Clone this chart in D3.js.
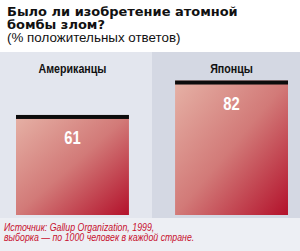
<!DOCTYPE html>
<html>
<head>
<meta charset="utf-8">
<script src="https://cdn.jsdelivr.net/npm/d3@7"></script>
<style>
  body { margin: 0; background: #fff; }
  svg { display: block; }
</style>
</head>
<body>
<div id="chart"></div>
<script>
// data
var categories = ["Американцы", "Японцы"];
var values = [61, 82];
var titleLines = ["Было ли изобретение атомной", "бомбы злом?"];
var subtitle = "(% положительных ответов)";
var sourceLines = ["Источник: Gallup Organization, 1999,", "выборка — по 1000 человек в каждой стране."];

(function () {
  var width = 300, height = 251;

  var svg = d3.select("#chart")
    .append("svg")
      .attr("width", width)
      .attr("height", height);

  // squeeze text horizontally, the original uses a condensed face
  function narrow(sx) {
    return function (sel) {
      sel.attr("transform", function () {
        var t = d3.select(this);
        return "translate(" + t.attr("x") + "," + t.attr("y") + ") scale(" + sx + ",1)";
      }).attr("x", 0).attr("y", 0);
    };
  }

  var defs = svg.append("defs");
  var grad = defs.append("linearGradient")
      .attr("id", "barGrad")
      .attr("x1", "0").attr("y1", "0")
      .attr("x2", "1").attr("y2", "1");
  grad.append("stop").attr("offset", "0%").attr("stop-color", "#e6b2a6");
  grad.append("stop").attr("offset", "50%").attr("stop-color", "#d27a78");
  grad.append("stop").attr("offset", "100%").attr("stop-color", "#b3112b");

  // scales
  var panel = d3.scaleBand().domain(categories).range([0, 304]);
  var x = d3.scaleBand().domain(categories).range([16, 288]).paddingInner(0.29);
  var y = d3.scaleLinear().domain([0, 100]).range([215, 51]);

  // backgrounds
  svg.append("rect")
    .attr("x", 0).attr("y", 52).attr("width", width).attr("height", height - 52)
    .attr("fill", "#edeff4");
  svg.selectAll(".panel")
    .data(categories)
    .enter().append("rect")
      .attr("class", "panel")
      .attr("x", function (d) { return panel(d); })
      .attr("y", 52)
      .attr("width", panel.bandwidth())
      .attr("height", 166)
      .attr("fill", function (d, i) { return i === 0 ? "#e3e6ee" : "#d4d8e3"; });

  // bars
  svg.selectAll(".bar")
    .data(values)
    .enter().append("rect")
      .attr("class", "bar")
      .attr("x", function (d, i) { return x(categories[i]); })
      .attr("y", function (d) { return y(d); })
      .attr("width", x.bandwidth())
      .attr("height", function (d) { return y(0) - y(d); })
      .attr("fill", "url(#barGrad)");

  svg.selectAll(".cap")
    .data(values)
    .enter().append("rect")
      .attr("class", "cap")
      .attr("x", function (d, i) { return x(categories[i]); })
      .attr("y", function (d) { return y(d); })
      .attr("width", x.bandwidth())
      .attr("height", 4)
      .attr("fill", "#0c0c0c");

  // value labels
  svg.selectAll(".val")
    .data(values)
    .enter().append("text")
      .attr("class", "val")
      .attr("x", function (d, i) { return x(categories[i]) + x.bandwidth() / 2; })
      .attr("y", function (d) { return y(d) + 29; })
      .attr("text-anchor", "middle")
      .style("font-family", "'Liberation Sans', Arial, sans-serif")
      .style("font-weight", "bold")
      .style("font-size", "18.5px")
      .attr("fill", "#fff")
      .text(function (d) { return d; })
      .call(narrow(0.8));

  // category labels
  svg.selectAll(".cat")
    .data(categories)
    .enter().append("text")
      .attr("class", "cat")
      .attr("x", function (d) { return x(d) + x.bandwidth() / 2; })
      .attr("y", 73)
      .attr("text-anchor", "middle")
      .style("font-family", "'Liberation Sans', Arial, sans-serif")
      .style("font-weight", "bold")
      .style("font-size", "13px")
      .attr("fill", "#111")
      .text(function (d) { return d; })
      .call(narrow(0.82));

  // title
  svg.selectAll(".title")
    .data(titleLines)
    .enter().append("text")
      .attr("class", "title")
      .attr("x", 7)
      .attr("y", function (d, i) { return 16 + i * 13; })
      .style("font-family", "'DejaVu Sans', sans-serif")
      .style("font-weight", "bold")
      .style("font-size", "12.6px")
      .attr("fill", "#111")
      .text(function (d) { return d; })
      .call(narrow(1.03));

  svg.append("text")
    .attr("x", 7)
    .attr("y", 42)
    .style("font-family", "'Liberation Sans', Arial, sans-serif")
    .style("font-size", "13px")
    .attr("fill", "#111")
    .text(subtitle)
    .call(narrow(1.03));

  // source
  svg.selectAll(".src")
    .data(sourceLines)
    .enter().append("text")
      .attr("class", "src")
      .attr("x", 4)
      .attr("y", function (d, i) { return 230.5 + i * 10.5; })
      .style("font-family", "'Liberation Sans', Arial, sans-serif")
      .style("font-style", "italic")
      .style("font-size", "10px")
      .attr("fill", "#c8102e")
      .text(function (d) { return d; })
      .call(narrow(0.88));
})();
</script>
</body>
</html>
